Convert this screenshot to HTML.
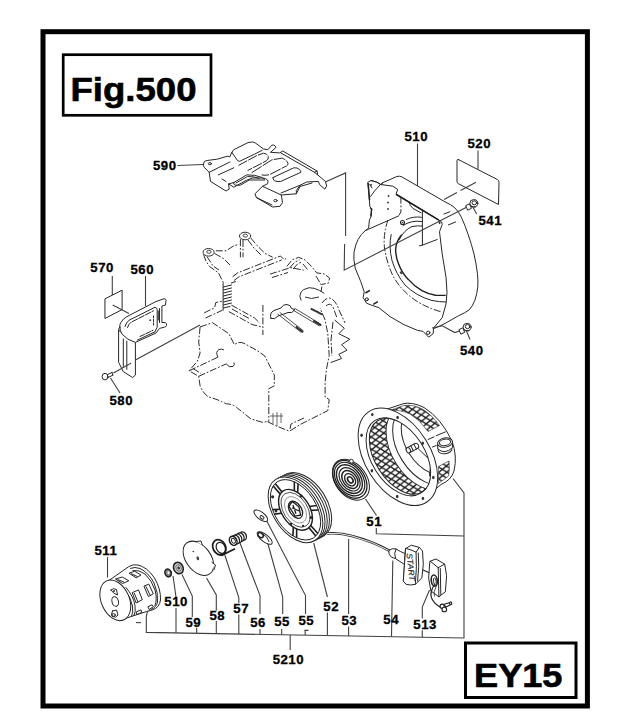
<!DOCTYPE html>
<html><head><meta charset="utf-8">
<style>
html,body{margin:0;padding:0;background:#fff;}
body{width:619px;height:727px;overflow:hidden;position:relative;font-family:"Liberation Sans",sans-serif;}
svg{position:absolute;left:0;top:0;}
.lb{font-family:"Liberation Sans",sans-serif;font-weight:bold;font-size:13.2px;fill:#000;letter-spacing:0.5px;stroke:#000;stroke-width:0.3px;}
.ld{stroke:#404040;stroke-width:1.1;fill:none;}
.p{stroke:#262626;stroke-width:1.0;fill:none;stroke-linejoin:round;stroke-linecap:round;}
.pf{stroke:#262626;stroke-width:1.0;fill:#fff;stroke-linejoin:round;stroke-linecap:round;}
.ph{stroke:#2c2c2c;stroke-width:1.0;fill:none;stroke-dasharray:7 1.8 1.8 1.8;stroke-linejoin:round;}
.big{font-family:"Liberation Sans",sans-serif;font-weight:bold;fill:#000;stroke:#000;stroke-width:0.6px;}
</style></head><body>
<svg width="619" height="727" viewBox="0 0 619 727">
<!-- FRAME -->
<rect x="43" y="31.7" width="544.4" height="674.3" fill="none" stroke="#000" stroke-width="5"/>
<rect x="63.2" y="54.7" width="147.8" height="60.6" fill="none" stroke="#000" stroke-width="2.7"/>
<rect x="465.5" y="643" width="110.5" height="54.5" fill="none" stroke="#000" stroke-width="3"/>
<text class="big" x="70.5" y="101" font-size="33" textLength="126" lengthAdjust="spacingAndGlyphs">Fig.500</text>
<text class="big" x="474" y="687" font-size="32.5" textLength="88.5" lengthAdjust="spacingAndGlyphs">EY15</text>
<!-- LEADERS -->
<g id="leaders" class="ld">
<path d="M177.5 165.5 L203 164.5"/>
<path d="M417.5 143.5 L417.5 222"/>
<path d="M478 150.5 L478 169"/>
<path d="M112.3 276 L112.3 295"/>
<path d="M145.5 276 L145.5 306"/>
<path d="M110.5 378 L120 393"/>
<path d="M107.5 557 L107.5 577.5"/>
<path d="M365.5 499 L376.5 515.5"/>
<path d="M376.3 528 L376.3 533.8 L463.9 536"/>
<!-- bottom bracket -->
<path d="M148.5 610 Q146.3 613 146.3 617 L146.3 632.4 L464 638 L464 493 L453 478.5"/>
<path d="M136 622.6 L141 622.6"/>
<path d="M290.2 635 L290.2 650"/>
<path d="M173 576 L176 597"/><path d="M176 608 L176 632.8"/>
<path d="M182 574.5 L192.3 596 L192.3 617"/><path d="M196.7 628 L196.7 633.2"/>
<path d="M206.5 578 L216.3 595 L216.3 610.5"/><path d="M216.3 621 L216.3 633.6"/>
<path d="M224.8 555 L238.8 597.5 L238.8 603"/><path d="M238.8 614.5 L238.8 634"/>
<path d="M240 543 L260 595.6 L260 614"/><path d="M260 629 L260 634.4"/>
<path d="M267.7 543 L282.7 597 L282.7 614"/><path d="M281.7 629 L281.7 634.8"/>
<path d="M266 519.5 L305.5 595.6 L305.5 614"/><path d="M304.4 630.4 L308.5 630.4 M305.2 630.4 L305.2 635"/>
<path d="M313.7 543 L327.4 597"/><path d="M327.4 612.5 L327.4 635.6"/>
<path d="M348.6 539 L348.6 614"/><path d="M348.6 626.6 L348.6 636"/>
<path d="M392.8 560.5 L391.5 636.7"/>
<path d="M429.5 590 L422.3 607 L422.3 618.6"/><path d="M422.3 630.2 L422.3 637.3"/>
</g>

<!-- 520 / 570 plates -->
<path class="p" d="M458.5 159.6 L497.5 179.6 Q499 180.5 499 182.5 L498.5 204.5 L458.2 183.6 Q457 183 457 181.5 L457 160.5 Q457 159 458.5 159.6 Z"/>
<path class="p" d="M105.3 298.7 L122.1 290.2 L122.1 309.6 L105.3 318.3 Z"/>
<!-- RECOIL CASE -->
<defs>
<pattern id="mesh" width="8.6" height="6.2" patternUnits="userSpaceOnUse" patternTransform="rotate(-4)">
<path d="M-1 -0.72 L9.6 6.92 M-1 6.92 L9.6 -0.72" stroke="#1c1c1c" stroke-width="1.3" fill="none"/>
</pattern>
<clipPath id="cOpen"><ellipse cx="400" cy="456.3" rx="24.8" ry="42" transform="rotate(-32.2 400 456.3)"/></clipPath>
<clipPath id="cBack"><ellipse cx="420.1" cy="446.9" rx="29.6" ry="48.6" transform="rotate(-32.2 420.1 446.9)"/></clipPath>
</defs>
<g id="case">
<!-- cylinder body (back rim + silhouette) -->
<path class="pf" d="M386 409.5 L403 403.8 Q412 401.5 424 407.5 Q441 418 452 441 Q457.5 456 454 471 Q451.5 480 441 484.5 L420 502 Z"/>
<!-- top mesh on body -->
<path d="M388 411 L404 405.5 Q414 404 424 410 Q433 416 439.5 425.5 L428 431.5 Q420 420 410 414 Q398 408.5 388 411 Z" fill="url(#mesh)" stroke="#2e2e2e" stroke-width="0.6"/>
<!-- lower mesh on body -->
<path d="M438.5 466.5 L449 461 Q450 470 448.5 476 L438.5 483.5 Z" fill="url(#mesh)" stroke="#2e2e2e" stroke-width="0.6"/>
<!-- dashes -->
<path class="p" d="M428 439.5 L434 436.9 M436.3 435.7 L445.4 431.9 M432.5 447 L436.3 445.5"/>
<!-- knob -->
<ellipse class="pf" cx="445" cy="449.5" rx="7" ry="4.2" transform="rotate(-8 445 449.5)"/>
<path class="pf" d="M437.6 443.5 L437.8 449 Q445 455 452.5 447.5 L452.4 442 Z"/>
<ellipse class="pf" cx="445" cy="442.6" rx="7.5" ry="4.6" transform="rotate(-10 445 442.6)" stroke-width="1.3"/>
<ellipse class="p" cx="445" cy="442.4" rx="5.6" ry="3.2" transform="rotate(-10 445 442.4)" stroke-width="0.8"/>
<!-- flange -->
<ellipse class="pf" cx="397.9" cy="456.8" rx="32.6" ry="53.7" transform="rotate(-32.2 397.9 456.8)" stroke-width="1.1"/>
<ellipse class="pf" cx="397.9" cy="456.8" rx="26.1" ry="43" transform="rotate(-32.2 397.9 456.8)"/>
<g clip-path="url(#cOpen)">
  <rect x="350" y="400" width="100" height="110" fill="url(#mesh)"/>
  <!-- back wall (white) covering mesh on right -->
  <ellipse cx="419.5" cy="449" rx="27.5" ry="45" transform="rotate(-32.2 419.5 449)" fill="#fff" stroke="#2e2e2e" stroke-width="0.9"/>
  <ellipse class="p" cx="425" cy="446" rx="27" ry="43" transform="rotate(-32.2 425 446)"/>
  <ellipse class="p" cx="430.5" cy="440.5" rx="25" ry="38" transform="rotate(-32.2 430.5 440.5)"/>
  <!-- inner second line of opening -->
  
  <!-- rope hole shape -->
  <path class="p" d="M423.5 443 Q431 452 434 461 Q429.5 466 429.5 476"/>
  <path class="p" d="M418.5 449 L432 462"/>
</g>
<ellipse class="p" cx="400" cy="456.3" rx="24.8" ry="42" transform="rotate(-32.2 400 456.3)" stroke-width="0.8"/>
<!-- hub -->
<g transform="rotate(-28 412.5 448)">
<rect class="pf" x="406" y="445.2" width="13" height="5.6" rx="2.6"/>
<ellipse class="pf" cx="407.8" cy="448" rx="2" ry="2.8"/>
<path class="p" d="M412 445.2 L412 450.8 M415.5 445.2 L415.5 450.8"/>
</g>
<!-- flange holes -->
<g fill="#333" stroke="none">
<ellipse cx="372.3" cy="414.6" rx="1.3" ry="1.7"/>
<ellipse cx="397.6" cy="417.5" rx="1.3" ry="1.7"/>
<ellipse cx="361.6" cy="435.3" rx="1.3" ry="1.7"/>
<ellipse cx="422.7" cy="443.3" rx="1.3" ry="1.7"/>
<ellipse cx="371.9" cy="470.7" rx="1.3" ry="1.7"/>
<ellipse cx="433.3" cy="477.5" rx="1.3" ry="1.7"/>
<ellipse cx="397.2" cy="496.5" rx="1.3" ry="1.7"/>
<ellipse cx="422.9" cy="498.4" rx="1.3" ry="1.7"/>
</g>
</g>
<!-- PULLEY 52 -->
<g id="pulley">
<ellipse class="pf" stroke-width="1.3" cx="304.3" cy="505.4" rx="22.5" ry="36.3" transform="rotate(-33 304.3 505.4)"/>
<ellipse class="pf" stroke-width="0.9" cx="302.1" cy="506.5" rx="22.5" ry="36.3" transform="rotate(-33 302.1 506.5)"/>
<ellipse class="pf" stroke-width="0.9" cx="299.9" cy="507.6" rx="22.5" ry="36.3" transform="rotate(-33 299.9 507.6)"/>
<ellipse class="pf" stroke-width="0.9" cx="297.7" cy="508.7" rx="22.5" ry="36.3" transform="rotate(-33 297.7 508.7)"/>
<ellipse class="pf" stroke-width="1.5" cx="295.5" cy="509.8" rx="22.5" ry="36.3" transform="rotate(-33 295.5 509.8)"/>
<g transform="translate(295.5 509.8) rotate(-33) scale(22.5 36.3)" fill="none" stroke="#1e1e1e">
<circle cx="0" cy="0" r="0.92" stroke-width="1.0" vector-effect="non-scaling-stroke" />
<circle cx="0" cy="0" r="0.62" stroke-width="1.4" vector-effect="non-scaling-stroke" />
<circle cx="0" cy="0" r="0.53" stroke-width="0.8" vector-effect="non-scaling-stroke" />
<circle cx="0" cy="0" r="0.4" stroke-width="0.7" vector-effect="non-scaling-stroke" stroke-dasharray="0.25 0.1"/>
<circle cx="0" cy="0" r="0.26" stroke-width="1.3" vector-effect="non-scaling-stroke" />
<path d="M0.606 0.133 L0.894 0.218" stroke-width="1.6" vector-effect="non-scaling-stroke"/>
<path d="M0.568 0.248 L0.851 0.349" stroke-width="1.6" vector-effect="non-scaling-stroke"/>
<path d="M0.187 0.591 L0.258 0.883" stroke-width="1.6" vector-effect="non-scaling-stroke"/>
<path d="M0.069 0.616 L0.123 0.912" stroke-width="1.6" vector-effect="non-scaling-stroke"/>
<path d="M-0.418 0.458 L-0.636 0.665" stroke-width="1.6" vector-effect="non-scaling-stroke"/>
<path d="M-0.499 0.368 L-0.728 0.563" stroke-width="1.6" vector-effect="non-scaling-stroke"/>
<path d="M-0.606 -0.133 L-0.894 -0.218" stroke-width="1.6" vector-effect="non-scaling-stroke"/>
<path d="M-0.568 -0.248 L-0.851 -0.349" stroke-width="1.6" vector-effect="non-scaling-stroke"/>
<path d="M-0.187 -0.591 L-0.258 -0.883" stroke-width="1.6" vector-effect="non-scaling-stroke"/>
<path d="M-0.069 -0.616 L-0.123 -0.912" stroke-width="1.6" vector-effect="non-scaling-stroke"/>
<path d="M0.418 -0.458 L0.636 -0.665" stroke-width="1.6" vector-effect="non-scaling-stroke"/>
<path d="M0.499 -0.368 L0.728 -0.563" stroke-width="1.6" vector-effect="non-scaling-stroke"/>
<path d="M-0.16 -0.18 L0.08 -0.24 L0.2 -0.02 L0.06 0.2 L-0.17 0.14 Z M-0.08 -0.1 L0.1 0.08 M0.02 -0.15 L-0.08 0.1" stroke-width="1.3" vector-effect="non-scaling-stroke"/>
</g>
<g fill="#2a2a2a" stroke="none"><circle cx="272.6" cy="496.8" r="1.6"/><circle cx="301" cy="496" r="1.5"/><circle cx="311" cy="517.5" r="1.5"/><circle cx="276" cy="511" r="1.4"/><circle cx="291" cy="524" r="1.2"/><circle cx="303" cy="526" r="1.2"/></g>
</g>
<!-- SPRING 51 -->
<g id="spring51" fill="none" stroke="#222">
<ellipse cx="350.9" cy="479.7" rx="15.6" ry="22.8" transform="rotate(-37 350.9 479.7)" stroke-width="1.0" fill="#fff"/>
<ellipse cx="349.9" cy="479.3" rx="14.4" ry="21.0" transform="rotate(-37 349.9 479.3)" stroke-width="1.3"/>
<ellipse cx="349.6" cy="479.1" rx="12.8" ry="18.7" transform="rotate(-37 349.6 479.1)" stroke-width="1.2"/>
<ellipse cx="349.4" cy="479.1" rx="10.9" ry="16.0" transform="rotate(-37 349.4 479.1)" stroke-width="1.4"/>
<ellipse cx="349.6" cy="479.3" rx="8.9" ry="13.0" transform="rotate(-37 349.6 479.3)" stroke-width="1.2"/>
<ellipse cx="349.9" cy="479.5" rx="6.9" ry="10.0" transform="rotate(-37 349.9 479.5)" stroke-width="1.5"/>
<ellipse cx="350.1" cy="479.7" rx="4.7" ry="6.8" transform="rotate(-37 350.1 479.7)" stroke-width="1.3"/>
<ellipse cx="350.3" cy="479.9" rx="2.3" ry="3.4" transform="rotate(-37 350.3 479.9)" stroke-width="1.6"/>
<circle cx="351.4" cy="461.2" r="1.9" stroke-width="0.9" fill="#fff"/>
</g>
<!-- CUP 511 -->
<g id="cup511">
<!-- body silhouette incl. back rim -->
<path class="pf" stroke-width="1.1" d="M109.4 580.2 L128.8 566.6 Q133 564 138 565 Q147 567 154.5 578 Q161 589 160.5 600 Q159.5 608 152 610 L146.5 611.5 L119.7 620.3 Z"/>
<path class="p" d="M130.5 568.3 Q135 566.5 140 568.5 Q148.5 572.5 154 583 Q158.5 593 157.5 602 Q156.5 607.5 151 609.5"/>
<path class="p" d="M133 570.5 Q139 569.5 145 574 Q152 580.5 155 590 Q157.5 599 155 605.5" stroke-width="0.7"/>
<!-- front band -->
<path class="p" d="M124 589 Q131 597 132.5 606 Q133.5 613 131.5 616.5"/>
<path class="p" d="M126 587.5 Q133.5 596 135 605.5 Q136 612.5 134 615.6" stroke-width="0.7"/>
<!-- front face -->
<ellipse class="pf" cx="115.3" cy="600.3" rx="14" ry="21.3" transform="rotate(-24 115.3 600.3)" stroke-width="1.1"/>
<ellipse class="p" cx="115.2" cy="601.5" rx="3.2" ry="4.9" transform="rotate(-15 115.2 601.5)" stroke-width="1.1"/>
<path class="p" d="M111 590 Q113.5 587.5 116.5 589.5 L117.5 595 Q113 593.5 111 590 Z" stroke-width="1.1"/>
<circle cx="114" cy="591" r="1" fill="#333"/>
<path class="p" d="M112.5 611 L116.5 610 L118 615 Q116 618.5 112.5 616.5 Q110.5 614 112.5 611 Z" stroke-width="1.1"/>
<ellipse class="p" cx="113.5" cy="615" rx="2" ry="1.3"/>
<!-- windows -->
<g class="p" stroke-width="1.1">
<path d="M115.8 578.9 L122.3 577 L128.8 580.8 L123 583.4 Z M118 579.6 L123.5 582"/>
<path d="M129.4 573.1 L134.6 571.2 L141 575 L136.5 577.6 Z M131.5 573.8 L137 576.4"/>
<path d="M132.6 592.5 L138.5 589.9 L142.3 599.6 L136.5 602.8 Z M134.3 593.3 L138 602"/>
<path d="M144.3 586 L148.8 584.1 L153.3 593.8 L148.8 596.4 Z M146 586.7 L150.3 595.5"/>
<path d="M136.5 611.9 L141 609.9 L141.7 612.5 L137.2 614.4 Z"/>
<path d="M148.2 606.7 L152 604.8 L153.3 606.7 L149.5 609.3 Z"/>
</g>
</g>
<!-- SMALL PARTS -->
<g id="small">
<!-- nut 510 -->
<ellipse cx="168.1" cy="572.9" rx="3.1" ry="3.9" fill="#888" stroke="#222" stroke-width="1.6" transform="rotate(-20 168.1 572.9)"/>
<ellipse cx="168.6" cy="572.7" rx="1.1" ry="1.5" fill="#eee" stroke="none"/>
<path class="p" d="M169.5 569.5 L171.5 571.5 L171 575.5 L169 576.8" stroke-width="1.1"/>
<!-- washer 59 -->
<ellipse cx="178.4" cy="568" rx="4.7" ry="5.9" fill="#ccc" stroke="#222" stroke-width="1.6" transform="rotate(-25 178.4 568)"/>
<ellipse cx="178.6" cy="568" rx="2.6" ry="3.4" fill="none" stroke="#555" stroke-width="0.7" transform="rotate(-25 178.6 568)"/>
<ellipse cx="178.7" cy="568" rx="1.2" ry="1.6" fill="#333" stroke="none" transform="rotate(-25 178.7 568)"/>
<!-- plate 58 -->
<ellipse class="pf" cx="198.4" cy="558.3" rx="12.4" ry="19.3" transform="rotate(-37 198.4 558.3)" stroke-width="1.1"/>
<path class="pf" d="M196 541.5 L201 541 L202.3 545.2" />
<path class="pf" d="M212 562.5 L215.5 565 L214 569.8"/>
<circle cx="193.3" cy="551.5" r="0.8" fill="#333"/>
<ellipse cx="197.8" cy="558.3" rx="1.3" ry="2" fill="#444" transform="rotate(-20 197.8 558.3)"/>
<!-- ring 57 -->
<ellipse cx="219.3" cy="547.3" rx="6.3" ry="8" fill="#fff" stroke="#1c1c1c" stroke-width="1.8" transform="rotate(-28 219.3 547.3)"/>
<ellipse cx="220.8" cy="547.8" rx="4.3" ry="5.8" fill="none" stroke="#1c1c1c" stroke-width="1.2" transform="rotate(-28 220.8 547.8)"/>
<path d="M221.5 555.5 L235 548.8" stroke="#1c1c1c" stroke-width="1.6" fill="none"/>
<!-- spring 56 -->
<g fill="none" stroke="#1c1c1c" stroke-width="1.3">
<ellipse cx="243" cy="536" rx="3.2" ry="4.3" transform="rotate(-25 243 536)" fill="#fff"/>
<ellipse cx="240.6" cy="537.2" rx="3.3" ry="4.4" transform="rotate(-25 240.6 537.2)" fill="#fff"/>
<ellipse cx="238.2" cy="538.4" rx="3.4" ry="4.5" transform="rotate(-25 238.2 538.4)" fill="#fff"/>
<ellipse cx="235.8" cy="539.6" rx="3.5" ry="4.6" transform="rotate(-25 235.8 539.6)" fill="#fff"/>
<ellipse cx="233.2" cy="540.8" rx="3.6" ry="4.7" transform="rotate(-25 233.2 540.8)" fill="#fff" stroke-width="1.5"/>
<ellipse cx="233.4" cy="540.8" rx="1.8" ry="2.6" transform="rotate(-25 233.4 540.8)" stroke-width="0.9"/>
</g>
<!-- links 55 -->
<ellipse class="pf" cx="260.8" cy="515.7" rx="8.2" ry="3.6" transform="rotate(38 260.8 515.7)" stroke-width="1.0"/>
<ellipse class="p" cx="262" cy="517.4" rx="2.2" ry="1.4" transform="rotate(38 262 517.4)"/>
<ellipse class="pf" cx="264.7" cy="538" rx="9.2" ry="3.6" transform="rotate(38 264.7 538)" stroke-width="1.1"/>
<ellipse cx="260.6" cy="535.2" rx="3" ry="2.1" transform="rotate(38 260.6 535.2)" fill="none" stroke="#222" stroke-width="1.5"/>
<path class="p" d="M263 534 Q267.5 536.5 269 541.5"/>
</g>
<!-- HANDLE 54 / 513 -->
<g id="handle">
<!-- rope -->
<path d="M327 533.5 Q340 532.5 352 536 Q372 541 391 551.5" fill="none" stroke="#2a2a2a" stroke-width="2.6"/>
<path d="M327 533.5 Q340 532.5 352 536 Q372 541 391 551.5" fill="none" stroke="#fff" stroke-width="0.9"/>
<!-- rod to 513 -->
<path d="M416.3 567 L431 573.5" fill="none" stroke="#2a2a2a" stroke-width="1.3"/>
<!-- bulb + neck -->
<path class="pf" stroke-width="1.1" d="M389 550.5 Q392 547.5 396 549 L400.5 551.5 L405.5 553.8 L404.5 564.5 L395.5 558.6 Q390.5 558 389.3 554.5 Z"/>
<path class="p" d="M396 549 Q393.5 553 395.5 558.6"/>
<!-- T handle -->
<path class="pf" stroke-width="1.1" d="M405.9 548.4 L411.3 545.2 L419.3 547.4 L422.5 551 L423.3 564.1 L421.9 577.9 L415.3 584.4 L406.2 584.4 L403.3 581.2 L404.7 561.2 Z"/>
<path class="pf" stroke-width="1.1" d="M405.9 548.4 Q411 549.5 416.1 552.2 Q417 568 415.3 584.4 Q410 585.5 406.2 584.4 L403.3 581.2 L404.7 561.2 Z"/>
<path class="p" d="M416.1 552.2 L419.3 547.4"/>
<path class="p" d="M418.3 553 Q419.5 566 417.6 581" stroke-width="0.7"/>
<text transform="translate(406.6 553.6) rotate(84)" font-family="Liberation Sans, sans-serif" font-style="italic" font-size="8" fill="#222" stroke="#222" stroke-width="0.15" textLength="27.5" lengthAdjust="spacingAndGlyphs">START</text>
<!-- 513 block -->
<path class="pf" stroke-width="1.1" d="M430.2 561.2 L436 559 L444.7 564.1 L446.6 575.7 L445.4 591.7 L438.9 596.8 L430.9 591 L428.7 578.6 Z"/>
<path class="p" d="M430.2 561.2 L438.2 567.7 L438.9 596.8 M438.2 567.7 L444.7 564.1"/>
<path class="p" d="M440.3 568.5 L440.8 594.5" stroke-width="0.7"/>
<ellipse cx="434.3" cy="580.6" rx="3" ry="5.6" fill="#fff" stroke="#222" stroke-width="1.6" transform="rotate(-8 434.3 580.6)"/>
<ellipse cx="434.8" cy="581.2" rx="1.3" ry="3.4" fill="none" stroke="#222" stroke-width="0.9" transform="rotate(-8 434.8 581.2)"/>
<!-- wire + key -->
<path d="M434.8 584 Q429.5 592 431.5 598 Q434.5 604.5 441.5 607.8" fill="none" stroke="#2a2a2a" stroke-width="1.3"/>
<path d="M436.2 586.5 Q433 592 434.5 596.5" fill="none" stroke="#2a2a2a" stroke-width="0.8"/>
<g fill="#fff" stroke="#222" stroke-width="1.1">
<circle cx="442.2" cy="606.2" r="2.1"/>
<circle cx="444.3" cy="609.5" r="2.3"/>
<path d="M443.5 604.5 L451 602.3 L451.6 604.2 L446 607 Z"/>
<circle cx="450.6" cy="603.2" r="1.2"/>
</g>
</g>
<!-- ENGINE BLOCK (phantom) -->
<g id="engine">
<g class="ph">
<!-- bosses -->
<ellipse cx="208.6" cy="252.3" rx="5.6" ry="3.8" stroke-dasharray="none" stroke-width="1"/>
<ellipse cx="245.1" cy="236" rx="5.6" ry="3.8" stroke-dasharray="none" stroke-width="1"/>
<ellipse cx="208.9" cy="251.8" rx="2.2" ry="1.5" stroke-dasharray="none" stroke-width="0.9"/><ellipse cx="245.3" cy="235.6" rx="2.2" ry="1.5" stroke-dasharray="none" stroke-width="0.9"/>
<path d="M203.5 254.5 L206 261 L209.4 266.4 L218.4 272.8 L223.6 283.2"/>
<path d="M214.6 253.5 L223.6 258.6 L231.4 266.4"/>
<path d="M207 256.5 L213 266 L219 270"/>
<path d="M240.4 239.2 L240.4 257.3 M243 240 L243 257.3"/>
<path d="M250.7 237.9 L257.2 245.7 L265 253.4 L272.7 257.3"/>
<path d="M215.8 250.8 L226.2 250.8 L233.9 245.7 L239.1 244.4"/>
<path d="M248 240 L254 248 L262 256"/>
<!-- head -->
<path d="M232.6 276.7 L237.8 272.8 L280.5 256 L284.3 259.9 L287 257.5"/>
<path d="M233.9 280.6 L239.1 276.7 L281.8 259.9"/>
<path d="M231 283 L236 281.5"/>
<path d="M286.9 266.4 L292.1 259.9 L298.6 257.3 L305 259.9 L311.5 266.4 L316.6 272.8 L324.4 274.1 L329.6 278 L328.3 283.2 L321.8 284.4"/>
<path d="M289.5 268 L295 262 L299.5 260 M293 269 L298 263.5 L302 262 M303 264 L308 270"/>
<path d="M270.1 274.1 L290.8 267.6 L303.7 270.2"/>
<path d="M272 277.5 L288 272.5"/>
<path d="M316 276 L322 286 L321 292"/>
<!-- base of cyl -->
<path d="M231.4 305.1 L254.6 318 L259.8 323.2"/>
<path d="M228.8 311.6 L252 324.5 L262 327"/>
<path d="M232 309 L250 319"/>
<path d="M204.2 312.9 L214.6 307.7 L215.8 302.5 L222.3 301.2"/>
<path d="M205.5 318 L222.3 310.3"/>
<path d="M262.9 305 L262.9 335"/>
<!-- C shape -->
<path d="M299.8 296.1 Q300.5 291 303.7 289.6 Q309 286.5 314.1 288.3 Q320 290 324.4 293.5" stroke-dasharray="none"/>
<path d="M299.8 296.1 L301.2 300.5 M305 297 Q311 300 319 297" stroke-dasharray="none"/>
<path d="M322 303 Q327 296 332 299 Q337 303 339 310 L345 323"/>
<path d="M326 306 Q330 302 333 307 L337 318"/>
<!-- lower block -->
<path d="M200.1 326.9 L198.7 342 L200.1 353 L197.4 361.2 L189.1 370.8 L198.7 376.3 L200.1 385.9 Q203 393 208.3 396.9 Q217 399 226.2 403.8 Q233 404 237.2 407.9 L250.9 418.9 L261.9 422.2 L267.4 421.6"/>
<path d="M200.1 326.9 L212.5 322.7 L228.9 333.7 L234.4 344.7 Q239 341 244 343.3 L256.4 350.2 L264.6 355.7 L270.1 366.7 L274.3 374.9 L274.3 385.9 L268.8 388.7 L268.8 421.6"/>
<path d="M189.1 370.8 L218 357.1 M198.7 376.3 L226.2 363.9"/>
<path d="M218 357.1 Q215 352 219 349.5 Q222 348.5 224 350" stroke-dasharray="none"/>
<path d="M226.2 363.9 Q229 368 233 366.5 Q235 365 234 362.5" stroke-dasharray="none"/>
<path d="M193 368.5 L201 373.5"/>
<path d="M267.4 421.6 L275.6 425.7 L289.4 431.2 L300.4 424.4 L327.8 410.6 L329.2 399.6 L325.1 396.9 L325.1 383.2 L326.4 369.4 L329.2 355.7 L327.8 333.7 L325.1 320 L320 308"/>
<path d="M334.7 320 L344.3 328.2 L338.8 333.7 L349.8 339.2 L341.6 344.7 L347 350.2 L338.8 354.3 L341.6 358.5 L330.6 362.6" stroke-dasharray="none"/>
<path d="M333 322 L331 340 L332 356"/>
<path d="M290 429 L291 424 L304 418"/>
<path d="M273 413 L273 424 M277 412 L277 426 M281 413 L281 423 M270 416 L283 416" stroke-dasharray="none" stroke-width="0.7"/>
</g>
<!-- cyl fins (solid) -->
<g class="p" stroke-width="0.8">
<path d="M223.1 283.2 L223.1 310.3"/>
<path d="M223.5 287 L231.5 285 M223.5 290 L231.5 288 M223.5 293 L231.5 291 M223.5 296 L231.5 294 M223.5 299 L231.5 297 M223.5 302 L231.5 300 M223.5 305 L231.5 303 M223.5 308 L230 306.5"/>
</g>
<!-- studs -->
<g class="p">
<path d="M277.9 314.2 L301.1 332.3 M280 312.5 L303 330.5" stroke-width="0.8"/>
<path d="M296.5 327.2 L302.5 331.7" stroke="#333" stroke-width="2.1" stroke-dasharray="1.2 0.6"/>
<path d="M293.4 310.3 L319.2 325.8 M295 308.5 L320.5 324" stroke-width="0.8"/>
<path d="M314 321 L320.5 325" stroke="#333" stroke-width="2.1" stroke-dasharray="1.2 0.6"/>
<path d="M311.5 309 L321.8 314.2" stroke="#333" stroke-width="2.0" stroke-dasharray="1.2 0.6"/>
<path d="M271 318.5 Q269 313 274 310.5 L281 308 Q283 304 287 304.5 Q291 305 291.5 308.5 L295 309.5 Q292 314 288 312.5 L278 316 Q275 320 271 318.5 Z" stroke-width="1.0"/>
</g>
</g>
<!-- PLATE 590 -->
<g id="p590">
<path class="pf" d="M203.4 165.2 L204 162 Q205 160.6 207.9 160.4 L217.6 159.1 L227.3 156.2 L229.9 156.8 L231.8 152.3 L233.8 149.7 L248 142.6 L252.5 141.9 L255.7 143.2 L263.5 149 L267.9 149.7 L271.8 145.2 Q274 144.5 275 145.8 Q276.3 147 275.7 147.8 L270.5 152.3 L279.6 152.9 L282.8 151 L286 152.9 L317 171 L317.7 174.9 L325.4 181.4 L326.7 185.9 L324.8 189.1 L319.6 184.6 L318.3 181.4 L306.7 182 L300.2 185.2 L296.4 190.4 L296.3 193.8 L281.3 195 L282.5 202.5 L280 206.3 L272.5 207 L256.3 197.5 L255 193.8 L262.5 186.3 L267.5 183.8 Q268.5 181.5 267.5 180 Q265.5 178 262.5 178 L252.5 178 Q246 180 240 183.8 L233.8 187.2 L228.6 183.9 L229.2 189.1 L226 191 L210.5 181.4 L209.2 172.3 L204.7 167.8 Z"/>
<ellipse class="p" cx="209.9" cy="163.7" rx="1.6" ry="1.1" stroke-width="1.1"/>
<ellipse class="p" cx="275.5" cy="200.6" rx="1.7" ry="1.2" stroke-width="1.1"/>
<path class="p" d="M214.4 169.7 L229.9 162 M218.3 174.9 L233.8 167.8 M222 179 L226 181.5"/>
<path class="p" d="M231.8 152.3 L237.6 160.7 L239.6 161.3 L254.5 154.2 L262.2 150.3"/>
<path class="p" d="M209.2 172.3 L214.4 169.7 M228.6 183.9 L233.8 182.6"/>
<!-- slots -->
<path class="p" d="M238.9 165.2 L257 155.5 L263.5 153.2 Q267 153.5 268.3 156.5 Q268.6 159.5 266.6 160.7 L248 170.4" stroke-dasharray="9 2"/>
<path class="p" d="M252 172.5 L271.8 159.9 L282.1 158.1 Q287 160 288 163.3 Q288 165.3 286.7 165.8 L270.5 174.2 Q266 176 262 175" stroke-dasharray="11 2"/>
<path class="p" d="M273.1 177.5 L293.8 167.8 Q297.5 167.5 298.9 169.1 Q301.3 171 300.9 172.3 L280.8 181.4 Q276.5 182 274.4 180.7 Q272.5 179 273.1 177.5 Z"/>
<path class="p" d="M233.8 182.6 L246.7 174.9 Q255 174.5 262.2 177.5 L264.8 180 L249.3 180 L240.2 185.2 L235 185.2 Q233 184 233.8 182.6 Z" stroke-width="1.1"/>
<path class="p" d="M236 183 L247.5 176.5 Q254 176.3 259 178.3" stroke-width="0.7"/>
<!-- rail -->
<path class="p" d="M280.8 152.9 L314.5 172.3 L317.7 174.9 M314.5 172.3 L317 171"/>
<path class="p" d="M296.3 193.8 L300 186.5 L312 183 M281.3 195 L262.5 186.3 M256.3 197.5 L272 205"/>
<path class="p" d="M300.2 185.2 L281 193"/>
</g>
<!-- BLOWER HOUSING 510 -->
<g id="housing">
<!-- back shell -->
<path class="pf" d="M382.3 182.9 L396.8 176.5 Q399.5 175.8 401.7 176.8 L445.1 201.9 Q451 204.5 454.7 207.7 Q459 212 461.4 217.3 Q465 225 468.2 234.7 Q471.5 244 474 254 Q476.3 264 477.4 273.3 Q478.2 280 477.8 286.7 Q477 294 474.9 300.2 Q472.5 306.5 469.2 309.9 Q465 313 458.6 315.7 L445.1 323.4 L437.3 327.2 L432 329 L400 260 Z"/>
<!-- front face fill -->
<path class="pf" stroke-width="1.0" d="M368.1 182.1 L371 180.5 L376.7 182.1 L380.7 184.5 L392.8 186.2 L397.7 189.4 L396 194.2 L438.9 220.1 L441.6 222 L442.2 224.5 L439.5 231.8 L442.2 254 L446 277.1 L447 292.5 L446 304.1 L442.2 317.6 L433.5 328.2 L433.2 333.7 L428.7 337.1 L423 331.4 L417.4 330.3 L403.8 324.6 L390.2 316.7 L378.9 307.7 L372.1 305.4 L366.5 303.2 L363.1 297.5 L364.2 291.8 L360.8 281.7 L355.2 268.1 Q353.2 259 354 252.4 Q355.5 244 358.1 239.5 Q361 234 365.3 230.6 L368.6 228.2 L369.4 220.1 L371 216.8 L371.8 208.8 L370.2 207.2 Z"/>
<!-- thick top front edge -->
<path d="M396 194.2 L438.9 220.1" stroke="#1c1c1c" stroke-width="1.6" fill="none"/>
<path class="p" d="M380.7 184.5 L382.3 182.9"/>
<path class="p" d="M371 180.5 L376.7 182.1 L380.7 184.5 M369.8 184.5 L372 188" stroke-width="1.0"/>
<circle cx="371.2" cy="184.8" r="0.9" fill="#333"/><path class="p" d="M380.2 184.8 L374.5 191 L370.6 196.5" stroke-width="1.0"/><path d="M368.2 183 L369.6 200 M370.4 208 L371.6 209.2 L370.8 216.5" stroke="#222" stroke-width="1.4" fill="none"/>
<!-- scroll top edge line -->
<path class="p" d="M365.3 230.6 L398.5 216"/>
<path class="ph" d="M400.9 196.7 L400.9 212 L398.5 216"/>
<g fill="#333"><circle cx="388.5" cy="196" r="0.9"/><circle cx="388" cy="202.5" r="0.9"/><circle cx="388" cy="209" r="0.9"/></g>
<!-- ring arcs -->
<path class="ph" d="M388 220 Q383 234 384.5 248 Q386.5 262 393 276 Q402 292 418 302 Q430 309 442 312"/>
<path class="p" d="M391.2 234.6 Q388.5 246 392 260.5 Q396 274 405 285 Q416 296 432 300.5 Q440 302 446 302" stroke-width="0.8"/>
<path d="M401.7 234.6 Q396 241.1 395.6 250 Q396 258 398.5 263.7 Q402 273 408.3 279.4 Q414 286 421.9 290.7 Q429 294.5 435.5 295.2 L445.7 295.4" stroke="#1c1c1c" stroke-width="1.4" fill="none"/>
<path class="p" d="M399 240 Q404 230 412 226.5 Q418 225.5 422 226"/>
<path class="p" d="M403 225.5 Q411 220 422 221.5 M406.5 219.5 Q413 216 421.5 217.3"/>
<!-- bolts -->
<circle cx="402.5" cy="222.5" r="2" fill="#fff" stroke="#222" stroke-width="1.1"/><circle cx="402.5" cy="222.5" r="0.8" fill="#333"/>
<circle cx="401.5" cy="272.6" r="1.6" fill="#444"/>
<!-- inner shape under top edge -->
<path class="p" d="M409 202.3 Q410 206 413 208.5 L421 212.8"/>
<!-- deflector flap -->
<path class="p" d="M422.4 209.6 L422.4 245.1 L419.5 245.9 M422.4 245.1 L437.2 239.5"/>
<!-- right ear hole -->
<ellipse cx="439.6" cy="222.8" rx="0.9" ry="1.4" fill="#333"/>
<!-- lower ears -->
<circle cx="366.9" cy="299.3" r="1.5" class="p"/>
<circle cx="428.2" cy="332.8" r="1.7" class="p"/>
<path d="M365.4 293 L369.9 290.3 M373.3 304.3 L377.8 301.6" stroke="#1c1c1c" stroke-width="1.5" fill="none"/>
<!-- dashes on shell -->
<path class="p" d="M444 214 L449.8 211.8 M448.4 224.9 L455.6 222"/>
<!-- screws -->
<g id="s541"><path class="pf" d="M466 205.5 L469.5 203.8 L471.5 208.3 L468 210 Z" stroke-width="1.1"/><ellipse cx="473.8" cy="203.3" rx="4" ry="3.7" class="pf" stroke-width="1.3"/><ellipse cx="474.3" cy="202.8" rx="2.3" ry="2" class="p" stroke-width="0.9"/><path class="p" d="M470 205.5 Q472 208 475.5 207" stroke-width="1.0"/></g>
<g id="s540"><path class="pf" d="M459.2 329.5 L462.7 327.8 L464.7 332.3 L461.2 334 Z" stroke-width="1.1"/><ellipse cx="467.1" cy="327.1" rx="4" ry="3.7" class="pf" stroke-width="1.3"/><ellipse cx="467.6" cy="326.6" rx="2.3" ry="2" class="p" stroke-width="0.9"/><path class="p" d="M463.3 329.3 Q465.3 331.8 468.8 330.8" stroke-width="1.0"/></g>
<path class="ld" d="M432.1 328 L442.3 325.8 L454.7 332.6 L459.5 331"/>
<path class="ld" d="M466.5 331 L470 339.5"/>
<path class="ld" d="M473.1 207.5 L476.7 214"/>
<path class="ld" d="M476 182.3 L460.5 190.6 M457 192.5 L444 199.4"/>
</g>
<!-- centerlines -->
<g id="centers" class="ld">
<path d="M325.2 182 L345.6 172.9 L345.6 236"/>
<path d="M344.6 244 L344.2 270.2 L466.5 207.2" />
<path d="M135.4 360 L200 325"/>
<path d="M112.7 305 L129 313.6"/>
</g>
<!-- BRACKET 560 / 580 -->
<g id="bracket">
<path class="pf" stroke-width="1.0" d="M118.6 330.7 L118.6 362.3 L123.3 371.6 L132.6 377.5 L135.4 375.1 L135.4 342.4 Z"/>
<path class="pf" stroke-width="1.0" d="M119.8 327.2 Q119.5 324 120.9 322.5 Q123 318.5 126.8 316.7 L156 301.5 L164.2 298.7 Q166 298.8 166.1 300.3 L165.4 305 L161.9 306.1 L161.9 322.5 L165.4 322.5 Q166.8 323.5 166.5 325.3 Q166 327 164.2 327.2 L159.5 328.4 L156 333 L135.4 342.4 Q127 340 122.1 334.2 Q120 331 119.8 327.2 Z"/>
<path class="p" d="M118.6 330.7 Q118.5 328 119.8 327.2"/>
<path class="p" d="M123.3 338.9 L123.3 367 M126.8 341.2 L126.8 369.3" stroke-width="0.8"/>
<path class="p" d="M125 326.5 Q126 322.5 129.1 320.2 L154.9 307.3 Q157 307.5 157.2 309.6 L157.2 327.2 L154.9 331.9 L137.3 340.1" stroke-width="1.1"/>
<path class="p" d="M127.5 327.5 Q128.5 324 131 322.3 L153.5 310.8" stroke-width="0.7" stroke-dasharray="6 1.5"/>
<path class="p" d="M140 336.5 L153 330.3" stroke-width="0.7" stroke-dasharray="5 1.5"/>
<path class="p" d="M159.5 308.5 L159.5 322.5 M158.3 311 L158.3 320" stroke-width="1.1"/>
<circle cx="150.2" cy="320.2" r="0.9" fill="#333"/>
<circle cx="130.3" cy="363.5" r="0.8" fill="#333"/>
<path class="p" d="M153.5 316 L153.5 326" stroke-width="0.7" stroke-dasharray="2 1.5"/>
<!-- screw 580 -->
<ellipse cx="105" cy="376.6" rx="2.9" ry="3.3" class="pf" stroke-width="1.2"/>
<path class="p" d="M107.5 374.6 L112 372.4 M108 377.6 L112.8 375.2 M112 372.4 L112.8 375.2" stroke-width="1.1"/>
<path class="ld" d="M113.5 373 L129.5 364"/>
</g>
<!-- LABELS -->
<g id="labels">
<text class="lb" x="153" y="170">590</text>
<text class="lb" x="404.5" y="141.3">510</text>
<text class="lb" x="467.5" y="148.3">520</text>
<text class="lb" x="478.5" y="225">541</text>
<text class="lb" x="460" y="355">540</text>
<text class="lb" x="90.3" y="271.7">570</text>
<text class="lb" x="130.5" y="274.3">560</text>
<text class="lb" x="109.5" y="405">580</text>
<text class="lb" x="94.5" y="555">511</text>
<text class="lb" x="164.3" y="606">510</text>
<text class="lb" x="185.5" y="626.8">59</text>
<text class="lb" x="209.5" y="619.8">58</text>
<text class="lb" x="233.3" y="613">57</text>
<text class="lb" x="250.2" y="626.7">56</text>
<text class="lb" x="274.2" y="625.5">55</text>
<text class="lb" x="298.5" y="624.7">55</text>
<text class="lb" x="323.3" y="610.7">52</text>
<text class="lb" x="341.4" y="624.9">53</text>
<text class="lb" x="383.3" y="623.8">54</text>
<text class="lb" x="413.3" y="628.5">513</text>
<text class="lb" x="366.3" y="525.9">51</text>
<text class="lb" x="272.7" y="664.2">5210</text>
</g>
</svg>
</body></html>
